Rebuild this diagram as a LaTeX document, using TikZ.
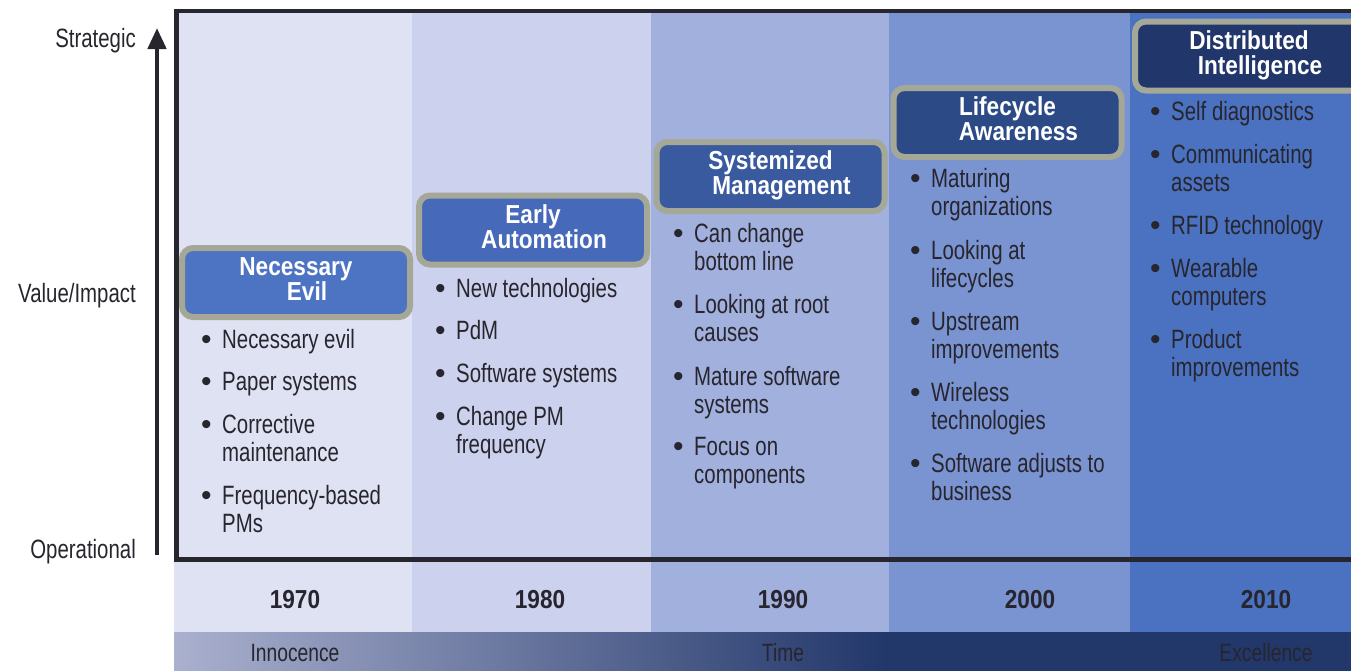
\documentclass[tikz,border=0pt]{standalone}
\usepackage{fontspec}
\setmainfont{Liberation Sans}[FakeStretch=0.77]
\newfontfamily\hfont{Liberation Sans}[FakeStretch=0.87]
\newfontfamily\bulfont{Liberation Sans}
\usetikzlibrary{arrows.meta}
\definecolor{cA}{HTML}{DFE2F3}
\definecolor{cB}{HTML}{CCD1EE}
\definecolor{cC}{HTML}{A2B0DE}
\definecolor{cD}{HTML}{7A93D1}
\definecolor{cE}{HTML}{4B72C1}
\definecolor{bA}{HTML}{4D74C2}
\definecolor{bB}{HTML}{4669B9}
\definecolor{bC}{HTML}{3A5A9F}
\definecolor{bD}{HTML}{2C4A85}
\definecolor{bE}{HTML}{21366A}
\definecolor{ring}{HTML}{A5A897}
\definecolor{ink}{HTML}{27252D}
\definecolor{bandL}{HTML}{AAB0CE}
\definecolor{bandR}{HTML}{22376A}
\newcommand\bul{\makebox[21pt][l]{\bulfont\fontsize{30}{28.5}\selectfont\raisebox{-1pt}{•}}}
\newcommand\two[2]{\bul\begin{tabular}[t]{@{}l@{}}#1\\#2\end{tabular}}
\newcommand\one[1]{\bul#1}
\begin{document}
\begin{tikzpicture}[x=1pt,y=-1pt,
  itm/.style={anchor=base west, inner sep=0pt, text=ink, font=\fontsize{26.5}{28.5}\selectfont},
  hdr/.style={draw=ring, line width=6pt, rounded corners=11pt, minimum width=228pt, minimum height=69pt,
    align=center, inner sep=0pt, text=white, font=\hfont\bfseries\fontsize{26}{25}\selectfont},
  yr/.style={anchor=base, inner sep=0pt, text=ink, font=\hfont\bfseries\fontsize{26}{28}\selectfont},
  axl/.style={anchor=base east, inner sep=0pt, text=ink, font=\fontsize{26.5}{28.5}\selectfont},
  bandtxt/.style={anchor=base, inner sep=0pt, text=ink, font=\fontsize{25}{28}\selectfont}]
\useasboundingbox (0,0) rectangle (1351,670);
\begin{scope}
\clip (0,0) rectangle (1351,670);
% columns (including year row)
\fill[cA] (174,11) rectangle (412.3,632);
\fill[cB] (412.3,11) rectangle (650.7,632);
\fill[cC] (650.7,11) rectangle (889.3,632);
\fill[cD] (889.3,11) rectangle (1129.5,632);
\fill[cE] (1129.5,11) rectangle (1351,632);
% bottom band
\fill[bandR] (870,632) rectangle (1360,675);
\shade[left color=bandL, right color=bandR] (174,632) rectangle (887,675);
% frame
\draw[ink, line width=4.5pt] (1360,11) -- (176.25,11) -- (176.25,559.5) -- (1360,559.5);
% headers
\node[hdr, fill=bA] (h1) at (296,282.5) {Necessary\\\hspace*{22pt}Evil\strut};
\node[hdr, fill=bB] (h2) at (533,230) {Early\\\hspace*{22pt}Automation\strut};
\node[hdr, fill=bC] (h3) at (770.5,176.5) {Systemized\\\hspace*{22pt}Management\strut};
\node[hdr, fill=bD] (h4) at (1007.5,122.5) {Lifecycle\\\hspace*{22pt}Awareness\strut};
\node[hdr, fill=bE] (h5) at (1249,56) {Distributed\\\hspace*{22pt}Intelligence\strut};
\end{scope}
% axis
\coordinate (ax0) at (157,555);
\coordinate (ax1) at (157,28);
\draw[ink, line width=4.5pt, -{Triangle[length=21pt,width=18pt]}] (ax0) -- (ax1);
\node[axl] (s1) at (136,47) {Strategic};
\node[axl] (s2) at (136,302) {Value/Impact};
\node[axl] (s3) at (136,558) {Operational};
% column 1
\node[itm] (a1) at (201,348) {\one{Necessary evil}};
\node[itm] (a2) at (201,390) {\one{Paper systems}};
\node[itm] (a3) at (201,433) {\two{Corrective}{maintenance}};
\node[itm] (a4) at (201,504) {\two{Frequency-based}{PMs}};
% column 2
\node[itm] (b1) at (435,297) {\one{New technologies}};
\node[itm] (b2) at (435,339) {\one{PdM}};
\node[itm] (b3) at (435,382) {\one{Software systems}};
\node[itm] (b4) at (435,425) {\two{Change PM}{frequency}};
% column 3
\node[itm] (c1) at (673,242) {\two{Can change}{bottom line}};
\node[itm] (c2) at (673,313) {\two{Looking at root}{causes}};
\node[itm] (c3) at (673,385) {\two{Mature software}{systems}};
\node[itm] (c4) at (673,455) {\two{Focus on}{components}};
% column 4
\node[itm] (d1) at (910,187) {\two{Maturing}{organizations}};
\node[itm] (d2) at (910,259) {\two{Looking at}{lifecycles}};
\node[itm] (d3) at (910,330) {\two{Upstream}{improvements}};
\node[itm] (d4) at (910,401) {\two{Wireless}{technologies}};
\node[itm] (d5) at (910,472) {\two{Software adjusts to}{business}};
% column 5
\node[itm] (e1) at (1150,120) {\one{Self diagnostics}};
\node[itm] (e2) at (1150,163) {\two{Communicating}{assets}};
\node[itm] (e3) at (1150,234) {\one{RFID technology}};
\node[itm] (e4) at (1150,277) {\two{Wearable}{computers}};
\node[itm] (e5) at (1150,348) {\two{Product}{improvements}};
% years
\node[yr] (y1) at (295,608) {1970};
\node[yr] (y2) at (540,608) {1980};
\node[yr] (y3) at (783,608) {1990};
\node[yr] (y4) at (1030,608) {2000};
\node[yr] (y5) at (1266,608) {2010};
% band labels
\node[bandtxt] (t1) at (295,661) {Innocence};
\node[bandtxt] (t2) at (783,661) {Time};
\node[bandtxt] (t3) at (1266,661) {Excellence};
\end{tikzpicture}
\end{document}
